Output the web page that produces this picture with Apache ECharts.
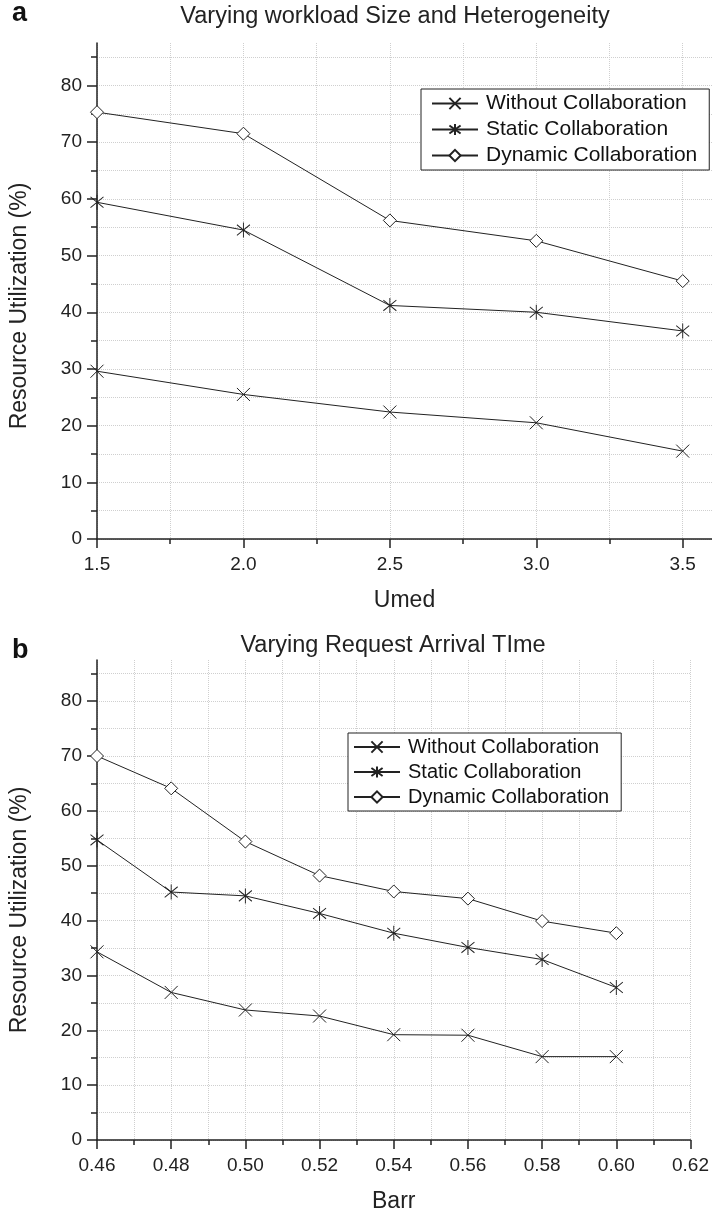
<!DOCTYPE html>
<html>
<head>
<meta charset="utf-8">
<script src="https://cdn.jsdelivr.net/npm/echarts@6/dist/echarts.min.js"></script>
<style>
  html, body { margin: 0; padding: 0; background: #fff; }
  #chart { width: 712px; height: 1214px; }
</style>
</head>
<body>
<div id="chart"></div>
<script>
// panel a: x = Umed
const umed = [1.5, 2.0, 2.5, 3.0, 3.5];
const umedWithout = [29.6, 25.5, 22.4, 20.5, 15.5];
const umedStatic = [59.4, 54.5, 41.2, 40.0, 36.7];
const umedDynamic = [75.3, 71.5, 56.2, 52.6, 45.5];

// panel b: x = Barr
const barr = [0.46, 0.48, 0.50, 0.52, 0.54, 0.56, 0.58, 0.60];
const barrWithout = [34.3, 26.9, 23.7, 22.6, 19.2, 19.1, 15.2, 15.2];
const barrStatic = [54.7, 45.2, 44.5, 41.3, 37.7, 35.1, 32.9, 27.8];
const barrDynamic = [70.0, 64.1, 54.4, 48.2, 45.3, 44.0, 39.9, 37.7];

// ticks and labels
const umedMinorTicks = [1.5, 1.75, 2.0, 2.25, 2.5, 2.75, 3.0, 3.25, 3.5];
const umedMajorTicks = [1.5, 2.0, 2.5, 3.0, 3.5];
const barrMinorTicks = [0.46, 0.47, 0.48, 0.49, 0.50, 0.51, 0.52, 0.53, 0.54, 0.55, 0.56, 0.57, 0.58, 0.59, 0.60, 0.61, 0.62];
const barrMajorTicks = [0.46, 0.48, 0.50, 0.52, 0.54, 0.56, 0.58, 0.60, 0.62];
const yMinorTicks = [0, 5, 10, 15, 20, 25, 30, 35, 40, 45, 50, 55, 60, 65, 70, 75, 80, 85];
const yMajorTicks = [0, 10, 20, 30, 40, 50, 60, 70, 80];

const names = ['Without Collaboration', 'Static Collaboration', 'Dynamic Collaboration'];

const FONT = 'Liberation Sans, Arial, sans-serif';
const INK = '#222';
const SYM_X = 'path://M0,0L12,12M0,12L12,0';
const SYM_STAR = 'path://M0,2L12,12M0,12L12,2M6,0L6,14';

let chart = echarts.init(document.getElementById('chart'));

// main axis: line, dotted grid, minor ticks, labels
function mainX(grid, min, max, step, minor, major, digits, name) {
  return {
    type: 'value', gridIndex: grid, position: 'bottom', min: min, max: max, interval: step,
    name: name, nameLocation: 'middle', nameGap: 50,
    nameTextStyle: {fontSize: 23, color: INK, fontFamily: FONT},
    axisLine: {onZero: false, lineStyle: {color: INK, width: 1.5}},
    axisTick: {show: true, inside: false, length: 5, customValues: minor, lineStyle: {color: INK, width: 1.5}},
    axisLabel: {customValues: major, margin: 16, fontSize: 19, color: INK, fontFamily: FONT,
      formatter: v => Number(v).toFixed(digits)},
    splitLine: {show: true, lineStyle: {color: '#cfcfcf', type: 'dotted', width: 1}}
  };
}
// overlay axis: only the long major ticks
function majorX(grid, min, max, major) {
  return {
    type: 'value', gridIndex: grid, position: 'bottom', min: min, max: max,
    axisLine: {show: false, onZero: false},
    axisTick: {show: true, length: 9, customValues: major, lineStyle: {color: INK, width: 1.5}},
    axisLabel: {show: false}, splitLine: {show: false}
  };
}
function mainY(grid, padShift) {
  return {
    type: 'value', gridIndex: grid, position: 'left', min: 0, max: 87.5, interval: 5,
    name: 'Resource Utilization (%)', nameLocation: 'middle', nameGap: 66, nameRotate: 90,
    nameTextStyle: {fontSize: 23, color: INK, fontFamily: FONT, padding: [0, padShift, 0, 0]},
    axisLine: {onZero: false, lineStyle: {color: INK, width: 1.5}},
    axisTick: {show: true, length: 6, customValues: yMinorTicks, lineStyle: {color: INK, width: 1.5}},
    axisLabel: {customValues: yMajorTicks, margin: 15, fontSize: 19, color: INK, fontFamily: FONT},
    splitLine: {show: true, lineStyle: {color: '#cfcfcf', type: 'dotted', width: 1}}
  };
}
function majorY(grid) {
  return {
    type: 'value', gridIndex: grid, position: 'left', min: 0, max: 87.5,
    axisLine: {show: false, onZero: false},
    axisTick: {show: true, length: 10, customValues: yMajorTicks, lineStyle: {color: INK, width: 1.5}},
    axisLabel: {show: false}, splitLine: {show: false}
  };
}

function series(name, xs, ys, sym, size, fill, axis) {
  return {
    type: 'line', name: name, xAxisIndex: axis, yAxisIndex: axis,
    data: xs.map((x, i) => [x, ys[i]]),
    symbol: sym, symbolSize: size, showAllSymbol: true,
    lineStyle: {color: INK, width: 1},
    itemStyle: {color: fill, borderColor: INK, borderWidth: 1},
    emphasis: {disabled: true}, z: 3
  };
}

function legend(left, top, fontSize, gap, padLeft) {
  return {
    orient: 'vertical', left: left, top: top, selectedMode: false,
    padding: [4, 12, 4, padLeft], itemWidth: 46, itemHeight: 14, itemGap: gap,
    borderColor: INK, borderWidth: 1, backgroundColor: '#fff',
    textStyle: {fontSize: fontSize, color: '#111', fontFamily: FONT, padding: [0, 0, 0, 3]},
    data: names
  };
}

let option = {
  backgroundColor: '#fff',
  animation: false,
  title: [
    {text: 'a', left: 12, top: 0, padding: 0, textStyle: {fontSize: 27, fontWeight: 'bold', color: '#111', fontFamily: FONT}},
    {text: 'Varying workload Size and Heterogeneity', left: 395, top: 5, padding: 0, textAlign: 'center',
      textStyle: {fontSize: 23.5, fontWeight: 'normal', color: INK, fontFamily: FONT}},
    {text: 'b', left: 12, top: 637, padding: 0, textStyle: {fontSize: 27, fontWeight: 'bold', color: '#111', fontFamily: FONT}},
    {text: 'Varying Request Arrival TIme', left: 393, top: 634, padding: 0, textAlign: 'center',
      textStyle: {fontSize: 23.5, fontWeight: 'normal', color: INK, fontFamily: FONT}}
  ],
  legend: [legend(421, 89, 21, 5, 10), legend(348, 733, 20, 5, 5)],
  grid: [
    {left: 96, right: 0, top: 43, bottom: 675},
    {left: 93, right: 20, top: 660, bottom: 72}
  ],
  xAxis: [
    mainX(0, 1.5, 3.6, 0.25, umedMinorTicks, umedMajorTicks, 1, 'Umed'),
    mainX(1, 0.46, 0.62, 0.01, barrMinorTicks, barrMajorTicks, 2, 'Barr'),
    majorX(0, 1.5, 3.6, umedMajorTicks),
    majorX(1, 0.46, 0.62, barrMajorTicks)
  ],
  yAxis: [mainY(0, 30), mainY(1, 20), majorY(0), majorY(1)],
  series: [
    series(names[0], umed, umedWithout, SYM_X, 13, INK, 0),
    series(names[1], umed, umedStatic, SYM_STAR, [13, 15], INK, 0),
    series(names[2], umed, umedDynamic, 'diamond', 13, '#fff', 0),
    series(names[0], barr, barrWithout, SYM_X, 13, INK, 1),
    series(names[1], barr, barrStatic, SYM_STAR, [13, 15], INK, 1),
    series(names[2], barr, barrDynamic, 'diamond', 13, '#fff', 1)
  ]
};
chart.setOption(option);
</script>
</body>
</html>
